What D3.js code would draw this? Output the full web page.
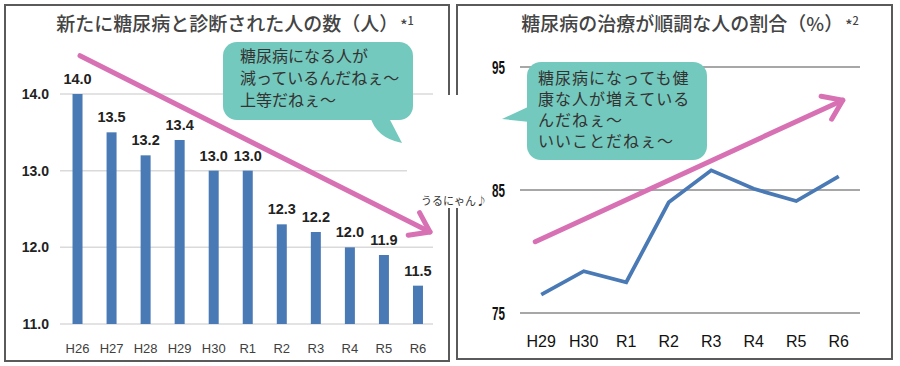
<!DOCTYPE html>
<html>
<head>
<meta charset="utf-8">
<script src="https://cdn.jsdelivr.net/npm/d3@7"></script>
<style>
  body { margin: 0; background: #fff; }
  svg { display: block; }
</style>
</head>
<body>
<div id="chart"></div>
<script>
// left chart: new diabetes diagnoses (ten-thousands)
var leftYears = ["H26", "H27", "H28", "H29", "H30", "R1", "R2", "R3", "R4", "R5", "R6"];
var leftValues = [14.0, 13.5, 13.2, 13.4, 13.0, 13.0, 12.3, 12.2, 12.0, 11.9, 11.5];
var leftTicks = [11, 12, 13, 14];
var leftTrend = [14.5, 12.2];

// right chart: share of people whose treatment goes well (%)
var rightYears = ["H29", "H30", "R1", "R2", "R3", "R4", "R5", "R6"];
var rightValues = [76.5, 78.4, 77.5, 84.0, 86.6, 85.1, 84.1, 86.1];
var rightTicks = [75, 85, 95];
var rightTrend = [80.8, 92.3];

var leftBubble = ["糖尿病になる人が", "減っているんだねぇ～", "上等だねぇ～"];
var rightBubble = ["糖尿病になっても健", "康な人が増えている", "んだねぇ～", "いいことだねぇ～"];

var width = 900, height = 366;
var pink = "#d870b4", blue = "#4a7ab5", teal = "#73c9bd";
var cjk = "'Noto Sans CJK JP', sans-serif";
var narrow = "'Liberation Sans Narrow', 'Liberation Sans', sans-serif";

var svg = d3.select("#chart").append("svg")
  .attr("width", width)
  .attr("height", height);

// panel frames
svg.append("rect").attr("x", 5).attr("y", 5).attr("width", 444).attr("height", 356)
  .style("fill", "none").style("stroke", "#5a5a5a").style("stroke-width", 2);
svg.append("rect").attr("x", 457).attr("y", 5).attr("width", 435).attr("height", 354)
  .style("fill", "none").style("stroke", "#5a5a5a").style("stroke-width", 2);

// ---------- left chart ----------
var x1 = d3.scalePoint().domain(leftYears).range([60.5, 435]).padding(0.5);
var y1 = d3.scaleLinear().domain([11, 14]).range([324, 94]);

svg.append("g").selectAll("line")
  .data(leftTicks)
  .enter().append("line")
  .attr("x1", 60).attr("x2", 433)
  .attr("y1", function(d) { return y1(d); })
  .attr("y2", function(d) { return y1(d); })
  .style("stroke", "#dadada").style("stroke-width", 1.5);

svg.append("g").selectAll("text")
  .data(leftTicks)
  .enter().append("text")
  .attr("x", 49)
  .attr("y", function(d) { return y1(d) + 5; })
  .style("text-anchor", "end")
  .style("font", "bold 14px " + narrow)
  .style("fill", "#222")
  .text(function(d) { return d3.format(".1f")(d); });

// white patch where the mascot sits between the panels
svg.append("rect").attr("x", 407).attr("y", 95).attr("width", 70).attr("height", 113)
  .style("fill", "#fff");

svg.append("g").selectAll("rect")
  .data(leftValues)
  .enter().append("rect")
  .attr("x", function(d, i) { return x1(leftYears[i]) - 5; })
  .attr("y", function(d) { return y1(d); })
  .attr("width", 10)
  .attr("height", function(d) { return y1(11) - y1(d); })
  .style("fill", blue);

svg.append("g").selectAll("text")
  .data(leftValues)
  .enter().append("text")
  .attr("x", function(d, i) { return x1(leftYears[i]); })
  .attr("y", function(d) { return y1(d) - 10; })
  .style("text-anchor", "middle")
  .style("font", "bold 14.5px " + narrow)
  .style("fill", "#222")
  .text(function(d) { return d.toFixed(1); });

svg.append("g").selectAll("text")
  .data(leftYears)
  .enter().append("text")
  .attr("x", function(d) { return x1(d); })
  .attr("y", 353)
  .style("text-anchor", "middle")
  .style("font", "13px 'Liberation Sans', sans-serif")
  .style("fill", "#404040")
  .text(function(d) { return d; });

// ---------- right chart ----------
var x2 = d3.scalePoint().domain(rightYears).range([520, 860]).padding(0.5);
var y2 = d3.scaleLinear().domain([75, 95]).range([313, 67]);

svg.append("g").selectAll("line")
  .data(rightTicks)
  .enter().append("line")
  .attr("x1", 520).attr("x2", 860)
  .attr("y1", function(d) { return y2(d); })
  .attr("y2", function(d) { return y2(d); })
  .style("stroke", "#8a8a8a").style("stroke-width", 1.5);

svg.append("g").selectAll("text")
  .data(rightTicks)
  .enter().append("text")
  .attr("x", 505)
  .attr("y", function(d) { return y2(d) + 7; })
  .style("text-anchor", "end")
  .style("font", "bold 18px " + narrow)
  .style("fill", "#111")
  .attr("textLength", 13)
  .attr("lengthAdjust", "spacingAndGlyphs")
  .text(function(d) { return d; });

svg.append("g").selectAll("text")
  .data(rightYears)
  .enter().append("text")
  .attr("x", function(d) { return x2(d); })
  .attr("y", 347)
  .style("text-anchor", "middle")
  .style("font", "16px " + narrow)
  .style("fill", "#111")
  .text(function(d) { return d; });

var line = d3.line()
  .x(function(d, i) { return x2(rightYears[i]); })
  .y(function(d) { return y2(d); });

svg.append("path")
  .datum(rightValues)
  .attr("d", line)
  .style("fill", "none")
  .style("stroke", blue)
  .style("stroke-width", 3.8)
  .style("stroke-linejoin", "miter");

// ---------- trend arrows ----------
function arrow(p0, p1) {
  var g = svg.append("g")
    .style("stroke", pink).style("stroke-width", 5)
    .style("stroke-linecap", "round").style("fill", "none");
  g.append("line").attr("x1", p0[0]).attr("y1", p0[1]).attr("x2", p1[0]).attr("y2", p1[1]);
  var a = Math.atan2(p1[1] - p0[1], p1[0] - p0[0]) + Math.PI;
  var len = 22, spread = 35 * Math.PI / 180;
  var pts = [
    [p1[0] + len * Math.cos(a - spread), p1[1] + len * Math.sin(a - spread)],
    p1,
    [p1[0] + len * Math.cos(a + spread), p1[1] + len * Math.sin(a + spread)]
  ];
  g.append("path").attr("d", d3.line()(pts)).style("stroke-linejoin", "round");
}
arrow([x1("H26") + 2.5, y1(leftTrend[0])], [x1("R6") + 12, y1(leftTrend[1])]);
arrow([x2("H29") - 6, y2(rightTrend[0])], [x2("R6") + 4, y2(rightTrend[1])]);

// ---------- speech bubbles ----------
svg.append("path")
  .attr("d", "M370,116 Q376,138 402,143 L388,116 Z")
  .style("fill", teal);
svg.append("rect").attr("x", 223).attr("y", 42).attr("width", 190).attr("height", 78).attr("rx", 14)
  .style("fill", teal);
svg.append("g").selectAll("text")
  .data(leftBubble)
  .enter().append("text")
  .attr("x", 240)
  .attr("y", function(d, i) { return 62 + i * 22; })
  .style("font", "16px " + cjk)
  .style("fill", "#333")
  .text(function(d) { return d; });

svg.append("path")
  .attr("d", "M530,106 L502,119 L530,122 Z")
  .style("fill", teal);
svg.append("rect").attr("x", 527).attr("y", 62).attr("width", 180).attr("height", 98).attr("rx", 14)
  .style("fill", teal);
svg.append("g").selectAll("text")
  .data(rightBubble)
  .enter().append("text")
  .attr("x", 538)
  .attr("y", function(d, i) { return 84 + i * 21; })
  .style("font", "16px " + cjk)
  .style("letter-spacing", "1px")
  .style("fill", "#333")
  .text(function(d) { return d; });

// ---------- titles ----------
function title(cx, txt, note) {
  var t = svg.append("text")
    .attr("x", cx).attr("y", 31)
    .style("text-anchor", "middle")
    .style("font", "500 19px " + cjk)
    .style("fill", "#444");
  t.append("tspan").text(txt);
  t.append("tspan").style("font-size", "15px").attr("dx", 2).text("*");
  t.append("tspan").style("font-size", "11px").attr("dy", -6).text(note);
}
title(235, "新たに糖尿病と診断された人の数（人）", "1");
title(690, "糖尿病の治療が順調な人の割合（%）", "2");

svg.append("text")
  .attr("x", 454).attr("y", 205)
  .style("text-anchor", "middle")
  .style("font", "11px " + cjk)
  .style("fill", "#333")
  .text("うるにゃん♪");
</script>
</body>
</html>
